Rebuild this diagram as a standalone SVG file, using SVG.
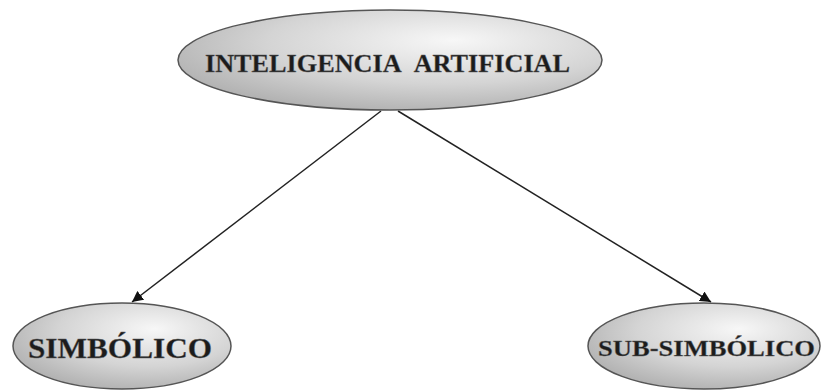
<svg xmlns="http://www.w3.org/2000/svg" width="822" height="390" viewBox="0 0 822 390">
<defs>
<radialGradient id="g" cx="0.6" cy="0.35" r="0.75" fx="0.65" fy="0.3">
<stop offset="0" stop-color="#f7f7f7"/>
<stop offset="0.55" stop-color="#d4d4d4"/>
<stop offset="1" stop-color="#a9a9a9"/>
</radialGradient>
<marker id="ah" viewBox="0 0 10 10" refX="10" refY="5" markerWidth="11" markerHeight="11" markerUnits="userSpaceOnUse" orient="auto">
<path d="M0,0 L10,5 L0,10 z" fill="#111"/>
</marker>
</defs>
<style>
.n{fill:url(#g);stroke:#555;stroke-width:1.5}
.t{font-family:"Liberation Serif","Times New Roman",serif;font-weight:bold;fill:#1c1c1c;stroke:#666;stroke-width:0.4}
.e{stroke:#222;stroke-width:1.5;fill:none}
</style>
<rect width="822" height="390" fill="#fff"/>
<g id="connectors">
<line class="e" x1="381" y1="111" x2="132" y2="302" marker-end="url(#ah)"/>
<line class="e" x1="398" y1="111" x2="711" y2="302" marker-end="url(#ah)"/>
</g>
<g id="ia">
<ellipse class="n" cx="390" cy="60" rx="212" ry="50"/>
<text class="t" x="205" y="72" font-size="25" word-spacing="8" textLength="365" lengthAdjust="spacingAndGlyphs">INTELIGENCIA ARTIFICIAL</text>
</g>
<g id="simbolico">
<ellipse class="n" cx="122" cy="346" rx="109" ry="43"/>
<text class="t" x="28" y="358" font-size="29" textLength="184" lengthAdjust="spacingAndGlyphs">SIMBÓLICO</text>
</g>
<g id="subsimbolico">
<ellipse class="n" cx="704" cy="346" rx="116" ry="43"/>
<text class="t" x="598" y="356" font-size="23" textLength="217" lengthAdjust="spacingAndGlyphs">SUB-SIMBÓLICO</text>
</g>
</svg>
